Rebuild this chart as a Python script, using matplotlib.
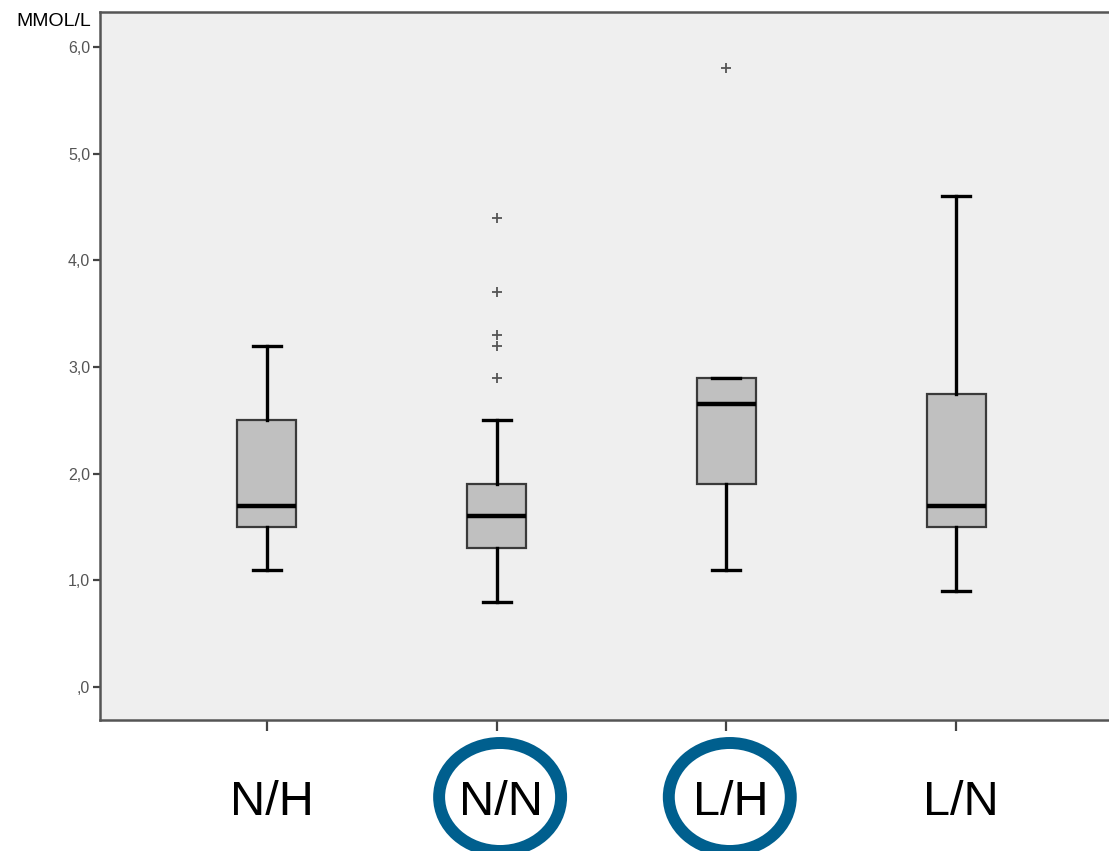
import matplotlib
matplotlib.use("Agg")
import matplotlib.pyplot as plt
from matplotlib.patches import Ellipse
from matplotlib.transforms import blended_transform_factory

plt.rcParams["font.family"] = ["Liberation Sans", "DejaVu Sans"]

# data (mmol/L)
groups = ["N/H", "N/N", "L/H", "L/N"]
whislo = [1.1, 0.8, 1.1, 0.9]
q1 = [1.5, 1.3, 1.9, 1.5]
median = [1.7, 1.6, 2.65, 1.7]
q3 = [2.5, 1.9, 2.9, 2.75]
whishi = [3.2, 2.5, 2.9, 4.6]
fliers = [[], [2.9, 3.2, 3.3, 3.7, 4.4], [5.8], []]
highlighted = ["N/N", "L/H"]

y_ticks = [0, 1, 2, 3, 4, 5, 6]
y_labels = [",0", "1,0", "2,0", "3,0", "4,0", "5,0", "6,0"]


def main():
    fig = plt.figure(figsize=(11.09, 8.51), dpi=100)
    ax = fig.add_axes([100 / 1109, 1 - 720 / 851, 1 - 100 / 1109, (720 - 12) / 851])
    ax.set_facecolor("#efefef")

    positions = list(range(1, len(groups) + 1))
    stats = []
    for i, g in enumerate(groups):
        stats.append({
            "label": g, "whislo": whislo[i], "q1": q1[i], "med": median[i],
            "q3": q3[i], "whishi": whishi[i], "fliers": fliers[i],
        })

    ax.bxp(
        stats, positions=positions, widths=0.257, capwidths=0.122,
        patch_artist=True, showfliers=True,
        boxprops=dict(facecolor="#c0c0c0", edgecolor="#3a3a3a", linewidth=1.6),
        medianprops=dict(color="black", linewidth=3.2),
        whiskerprops=dict(color="black", linewidth=2.4),
        capprops=dict(color="black", linewidth=2.4),
        flierprops=dict(marker="+", markersize=7, markeredgecolor="#555555",
                        markeredgewidth=1.3, linestyle="none"),
    )

    ax.set_xlim(0.273, 4.666)
    ax.set_ylim(-0.309, 6.328)

    ax.set_yticks(y_ticks)
    ax.set_yticklabels(y_labels, fontsize=11.5, color="#555555")
    ax.tick_params(axis="y", length=5, width=1.6, color="#444444", pad=2)

    ax.set_xticks(positions)
    ax.set_xticklabels([])
    ax.tick_params(axis="x", length=8, width=1.6, color="#444444")

    for side in ["left", "bottom", "top"]:
        ax.spines[side].set_color("#555555")
        ax.spines[side].set_linewidth(1.8)
    ax.spines["right"].set_visible(False)

    trans = blended_transform_factory(ax.transData, fig.transFigure)
    label_y = 1 - 815 / 851
    for pos, g in zip(positions, groups):
        fig.text(pos + 0.02, label_y, g, transform=trans, ha="center",
                 va="baseline", fontsize=35, color="black")
        if g in highlighted:
            ell = Ellipse((pos + 0.015, 1 - 797 / 851), width=122 / 229.7,
                          height=108 / 851, transform=trans, fill=False,
                          edgecolor="#005f8e", linewidth=8.6, clip_on=False)
            fig.add_artist(ell)

    fig.text(91 / 1109, 1 - 26 / 851, "MMOL/L", ha="right", va="baseline",
             fontsize=14, color="black")

    fig.savefig("out.png", dpi=100)


if __name__ == "__main__":
    main()
